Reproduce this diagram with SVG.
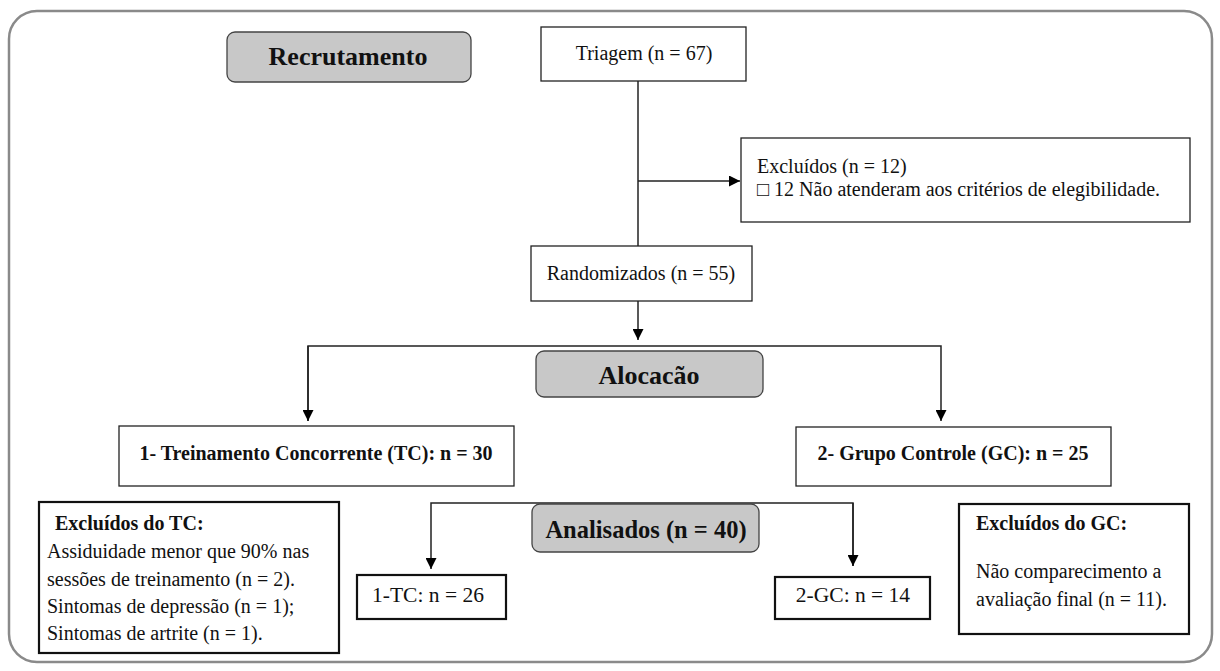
<svg xmlns="http://www.w3.org/2000/svg" width="1220" height="671" viewBox="0 0 1220 671">
<style>
.t{font-family:"Liberation Serif","Times New Roman",serif;font-size:20px;fill:#111}
.b{font-weight:bold}
.h{font-family:"Liberation Serif","Times New Roman",serif;font-size:26px;font-weight:bold;fill:#111}
.box{fill:#fff;stroke:#222;stroke-width:1.3}
.tbox{fill:#fff;stroke:#111;stroke-width:2.2}
.stage{fill:#c8c8c8;stroke:#444;stroke-width:1.3}
.con{fill:none;stroke:#222;stroke-width:1.5}
</style>
<defs>
<marker id="arr" viewBox="0 0 10 10" refX="10" refY="5" markerWidth="11" markerHeight="11" markerUnits="userSpaceOnUse" orient="auto">
<path d="M0,0 L10,5 L0,10 z" fill="#000"/>
</marker>
</defs>
<rect x="9" y="11" width="1203" height="651" rx="28" ry="28" fill="#fff" stroke="#8a8a8a" stroke-width="2.5"/>
<g id="connectors">
<line class="con" x1="638" y1="81" x2="638" y2="246"/>
<line class="con" x1="638" y1="181" x2="740" y2="181" marker-end="url(#arr)"/>
<line class="con" x1="638" y1="301" x2="638" y2="340" marker-end="url(#arr)"/>
<polyline class="con" points="308,421 308,346 941,346 941,421" marker-end="url(#arr)"/>
<line class="con" x1="308" y1="346" x2="308" y2="421" marker-end="url(#arr)"/>
<polyline class="con" points="853,566 853,503 431,503 431,569" marker-end="url(#arr)"/>
<line class="con" x1="853" y1="503" x2="853" y2="566" marker-end="url(#arr)"/>
</g>
<g id="recrutamento">
<rect class="stage" x="227" y="32" width="244" height="50" rx="8" ry="8"/>
<text class="h" x="348" y="65" text-anchor="middle">Recrutamento</text>
</g>
<g id="triagem">
<rect class="box" x="541" y="27" width="205" height="54"/>
<text class="t" x="644" y="60" text-anchor="middle">Triagem (n = 67)</text>
</g>
<g id="excluidos">
<rect class="box" x="741" y="138" width="449" height="84"/>
<text class="t" x="757" y="173">Excluídos (n = 12)</text>
<text class="t" x="757" y="196">□ 12 Não atenderam aos critérios de elegibilidade.</text>
</g>
<g id="randomizados">
<rect class="box" x="531" y="246" width="221" height="55"/>
<text class="t" x="641" y="280" text-anchor="middle">Randomizados (n = 55)</text>
</g>
<g id="alocacao">
<rect class="stage" x="536" y="351" width="227" height="46" rx="8" ry="8"/>
<text class="h" x="649" y="384" text-anchor="middle">Alocacão</text>
</g>
<g id="tc">
<rect class="box" x="119" y="426" width="395" height="60"/>
<text class="t b" x="316" y="460" text-anchor="middle">1- Treinamento Concorrente (TC): n = 30</text>
</g>
<g id="gc">
<rect class="box" x="796" y="427" width="315" height="59"/>
<text class="t b" x="953" y="460" text-anchor="middle">2- Grupo Controle (GC): n = 25</text>
</g>
<g id="excluidos-tc">
<rect class="tbox" x="39" y="502" width="300" height="151"/>
<text class="t b" x="55" y="530">Excluídos do TC:</text>
<text class="t" x="47" y="558">Assiduidade menor que 90% nas</text>
<text class="t" x="47" y="586">sessões de treinamento (n = 2).</text>
<text class="t" x="47" y="613">Sintomas de depressão (n = 1);</text>
<text class="t" x="47" y="640">Sintomas de artrite (n = 1).</text>
</g>
<g id="analisados">
<rect class="stage" x="532" y="504" width="227" height="48" rx="8" ry="8"/>
<text class="h" x="646" y="538" text-anchor="middle" style="font-size:24.5px">Analisados (n = 40)</text>
</g>
<g id="tc-final">
<rect class="tbox" x="357" y="575" width="149" height="44"/>
<text class="t" x="428" y="602" text-anchor="middle" style="font-size:21.5px">1-TC: n = 26</text>
</g>
<g id="gc-final">
<rect class="tbox" x="775" y="577" width="155" height="42"/>
<text class="t" x="853" y="602" text-anchor="middle" style="font-size:21.5px">2-GC: n = 14</text>
</g>
<g id="excluidos-gc">
<rect class="tbox" x="959" y="504" width="230" height="130"/>
<text class="t b" x="976" y="530">Excluídos do GC:</text>
<text class="t" x="976" y="578">Não comparecimento a</text>
<text class="t" x="976" y="606">avaliação final (n = 11).</text>
</g>
</svg>
